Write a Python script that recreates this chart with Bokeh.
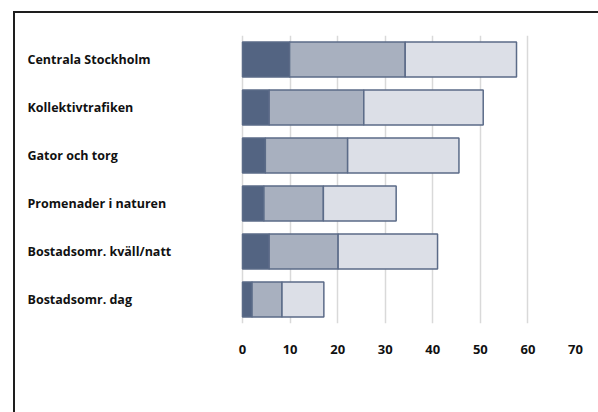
from bokeh.plotting import figure
from bokeh.models import (ColumnDataSource, FixedTicker, Range1d, FactorRange, Legend,
                          GlobalInlineStyleSheet)
from bokeh.core.properties import value
from bokeh.embed import file_html
from bokeh.resources import INLINE

categories = ["Centrala Stockholm", "Kollektivtrafiken", "Gator och torg",
              "Promenader i naturen", "Bostadsomr. kväll/natt", "Bostadsomr. dag"]
ja_ofta = [9.9, 5.6, 4.8, 4.5, 5.6, 2.0]
ja_ibland = [24.3, 19.9, 17.3, 12.5, 14.5, 6.3]
ja_sallan = [23.4, 25.1, 23.4, 15.3, 20.9, 8.8]
series_names = ["Ja, ofta", "Ja, ibland", "Ja, sällan"]
x_ticks = [0, 10, 20, 30, 40, 50, 60, 70]

colors = ["#536482", "#a8b0bf", "#dcdfe7"]
FONT = "Open Sans"

source = ColumnDataSource(dict(cat=categories, ofta=ja_ofta, ibland=ja_ibland, sallan=ja_sallan))

x_min = -45.2
p = figure(frame_width=548, frame_height=288, output_backend="svg", toolbar_location=None,
           y_range=FactorRange(factors=list(reversed(categories)), range_padding=0),
           x_range=Range1d(x_min, 70), y_axis_location=None,
           min_border_left=12, min_border_right=15, min_border_top=22, min_border_bottom=0)
p.outline_line_color = None
p.background_fill_color = "white"
p.border_fill_color = "white"
p.stylesheets = [GlobalInlineStyleSheet(css=(
    "html{overflow:hidden !important;}"
    "body{margin:11px 0 0 13px !important; overflow:hidden !important;"
    "border-left:2px solid #1e1e1e; border-top:2px solid #1e1e1e;}"))]

renderers = p.hbar_stack(["ofta", "ibland", "sallan"], y="cat", height=0.73, color=colors,
                         line_color="#5b6b88", line_width=1.5, source=source)

p.text(x=[x_min] * len(categories), y=categories, text=categories,
       text_align="left", text_baseline="middle", text_font=value(FONT),
       text_font_style="bold", text_font_size="12.5px", text_color="#111111")

p.xaxis.ticker = FixedTicker(ticks=x_ticks)
p.xaxis.axis_line_color = None
p.xaxis.major_tick_line_color = None
p.xaxis.minor_tick_line_color = None
p.xaxis.major_label_standoff = 15
p.xaxis.major_label_text_font = FONT
p.xaxis.major_label_text_font_style = "bold"
p.xaxis.major_label_text_font_size = "13px"
p.xaxis.major_label_text_color = "#111111"

p.xgrid.ticker = FixedTicker(ticks=x_ticks)
p.xgrid.grid_line_color = "#d9d9d9"
p.xgrid.grid_line_width = 1.5
p.ygrid.visible = False

legend = Legend(items=[(n, [r]) for n, r in zip(series_names, renderers)],
                orientation="horizontal", location="right",
                glyph_width=10, glyph_height=10, label_standoff=5, spacing=32,
                padding=0, margin=30, border_line_color=None, background_fill_alpha=0,
                label_text_font=FONT, label_text_font_style="bold",
                label_text_font_size="12.5px", label_text_color="#111111")
p.add_layout(legend, "below")

open("out.html", "w").write(file_html(p, INLINE))
